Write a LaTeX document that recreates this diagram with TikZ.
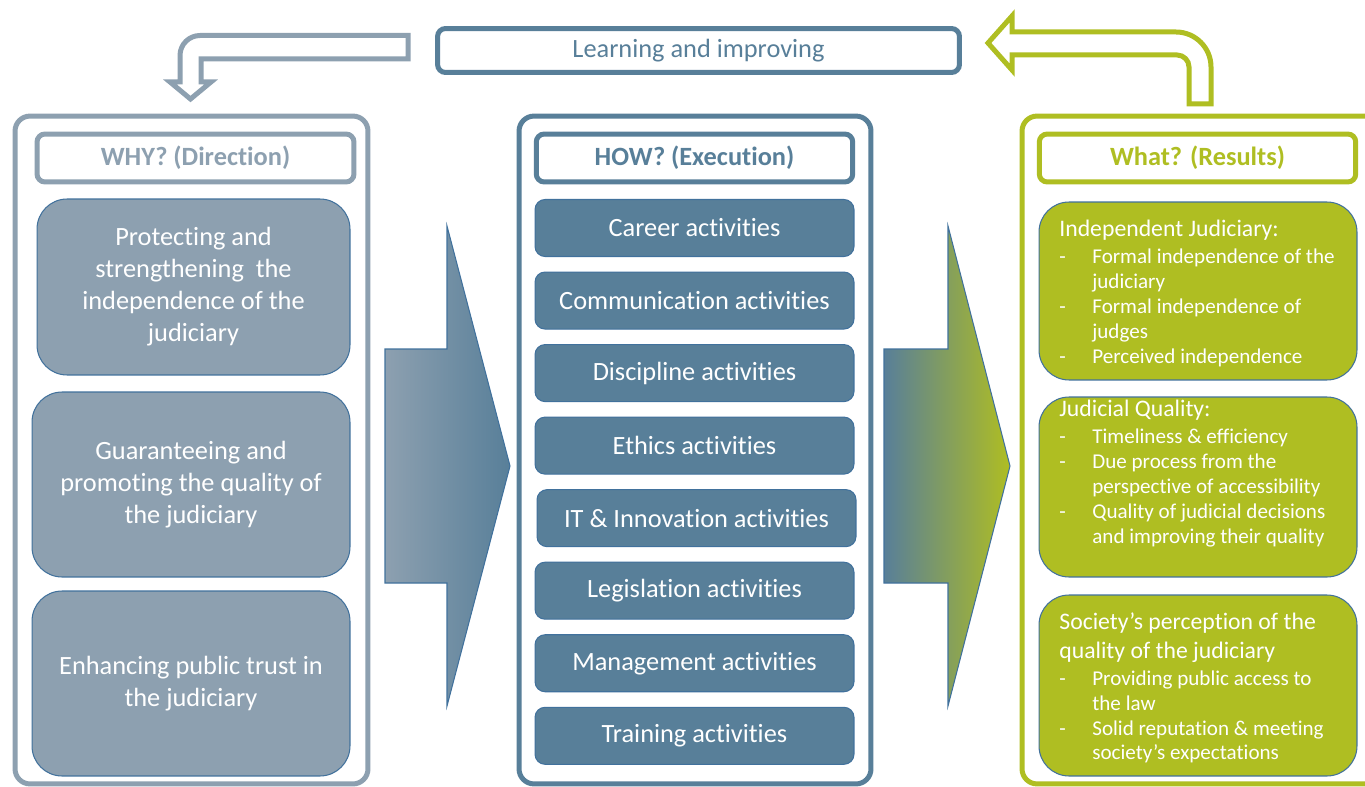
\documentclass[tikz,border=0pt]{standalone}
\usepackage{fontspec}
\setmainfont{Carlito}[Ligatures=NoCommon]
\usetikzlibrary{positioning}

\definecolor{whygray}{HTML}{8DA0B0}
\definecolor{howblue}{HTML}{587F99}
\definecolor{whatgreen}{HTML}{AFBE22}
\definecolor{edgeblue}{HTML}{41719C}

\newcommand{\bul}{\makebox[0.66cm][l]{-}}
\newcommand{\cont}{\hspace*{0.66cm}}

\tikzset{
  panel/.style={draw=#1, line width=0.1cm, rounded corners=0.3cm, fill=white, inner sep=0pt, minimum height=13.36cm},
  head/.style={draw=#1, line width=0.1cm, rounded corners=0.16cm, fill=white, text=#1, font=\fontsize{15}{18}\selectfont\bfseries, minimum width=6.33cm, minimum height=0.96cm},
  goal/.style={draw=edgeblue, line width=0.6pt, fill=whygray, rounded corners=0.6cm, text=white, align=center, font=\fontsize{15}{18.2}\selectfont, minimum width=6.36cm, minimum height=3.7cm},
  act/.style={draw=edgeblue, line width=0.6pt, fill=howblue, rounded corners=0.2cm, text=white, font=\fontsize{15}{18}\selectfont, minimum width=6.38cm, minimum height=1.14cm},
  result/.style={draw=edgeblue, line width=0.6pt, fill=whatgreen, rounded corners=0.6cm, minimum width=6.36cm},
  restext/.style={anchor=north west, inner sep=0pt, text=white, align=left, font=\fontsize{12}{14.2}\selectfont},
  loopback/.style={draw=#1, line width=0.1cm, fill=white, line join=miter}
}

\begin{document}
\begin{tikzpicture}[x=0.02cm, y=-0.02cm]
\useasboundingbox (0,0) rectangle (1365,787);
\clip (0,0) rectangle (1365,787);

\node[draw=howblue, line width=0.1cm, rounded corners=0.16cm, fill=white, text=howblue, font=\fontsize{15}{18}\selectfont, minimum width=10.44cm, minimum height=0.88cm] (learn) at (698.5,50.5) {Learning and improving};

\draw[loopback=whygray] (408,35.5) -- (200,35.5) arc[start angle=270, end angle=180, radius=20] -- (180,82) -- (170,82) -- (190.5,99) -- (211,82) -- (201,82) -- (201,59) -- (408,59) -- cycle;
\draw[loopback=whatgreen] (1012,16) -- (988,43) -- (1012,70) -- (1012,55) -- (1177,55) arc[start angle=270, end angle=360, radius=12] -- (1189,104) -- (1211,104) -- (1211,67) arc[start angle=0, end angle=-90, radius=35] -- (1012,32) -- cycle;

\node[panel=whygray, minimum width=7.06cm] (why) at (191.5,450) {};
\node[panel=howblue, minimum width=7.04cm] (how) at (695,450) {};
\node[panel=whatgreen, minimum width=7.16cm] (what) at (1201,450) {};

\node[head=whygray, minimum width=6.34cm] (whyhead) at (195.5,158) {WHY? (Direction)};
\node[head=howblue] (howhead) at (694.5,158) {HOW? (Execution)};
\node[head=whatgreen] (whathead) at (1197.5,158) {What? (Results)};

\node[goal, minimum width=6.26cm, minimum height=3.52cm] (protect) at (193.5,287) {Protecting and\\ strengthening\ \ the\\ independence of the\\ judiciary};
\node[goal] (quality) at (191,484.5) {Guaranteeing and\\ promoting the quality of\\ the judiciary};
\node[goal] (trust) at (191,683.5) {Enhancing public trust in\\ the judiciary};

\node[act] (career) at (694.5,228) {Career activities};
\node[act, below=0.29cm of career] (comm) {Communication activities};
\node[act, below=0.29cm of comm] (discipline) {Discipline activities};
\node[act, below=0.29cm of discipline] (ethics) {Ethics activities};
\node[act, below=0.29cm of ethics, xshift=0.04cm] (innovation) {IT \& Innovation activities};
\node[act, below=0.29cm of innovation, xshift=-0.04cm] (legislation) {Legislation activities};
\node[act, below=0.29cm of legislation] (management) {Management activities};
\node[act, below=0.29cm of management] (training) {Training activities};

\shadedraw[left color=whygray, right color=howblue, draw=edgeblue, line width=0.6pt] (385,349) -- (447,349) -- (447,226) -- (510,466) -- (447,706) -- (447,583) -- (385,583) -- cycle;
\shadedraw[left color=howblue, right color=whatgreen, draw=edgeblue, line width=0.6pt] (884,349) -- (948,349) -- (948,226) -- (1010,466) -- (948,706) -- (948,583) -- (884,583) -- cycle;

\node[result, minimum height=3.56cm] (independence) at (1198,291) {};
\node[result, minimum height=3.6cm] (judqual) at (1198,487) {};
\node[result, minimum height=3.62cm] (perception) at (1198,685.5) {};

\node[restext] (independencetext) at (1059,220) {{\fontsize{13.5}{16}\selectfont Independent Judiciary:}\\[1.2pt] \bul Formal independence of the\\ \cont judiciary\\ \bul Formal independence of\\ \cont judges\\ \bul Perceived independence};
\node[restext] (judqualtext) at (1059,400) {{\fontsize{13.5}{16}\selectfont Judicial Quality:}\\[1.2pt] \bul Timeliness \& efficiency\\ \bul Due process from the\\ \cont perspective of accessibility\\ \bul Quality of judicial decisions\\ \cont and improving their quality};
\node[restext] (perceptiontext) at (1059,612) {{\fontsize{13.5}{16}\selectfont Society’s perception of the}\\[2.3pt] {\fontsize{13.5}{16}\selectfont quality of the judiciary}\\[1.2pt] \bul Providing public access to\\ \cont the law\\ \bul Solid reputation \& meeting\\ \cont society’s expectations};
\end{tikzpicture}
\end{document}
